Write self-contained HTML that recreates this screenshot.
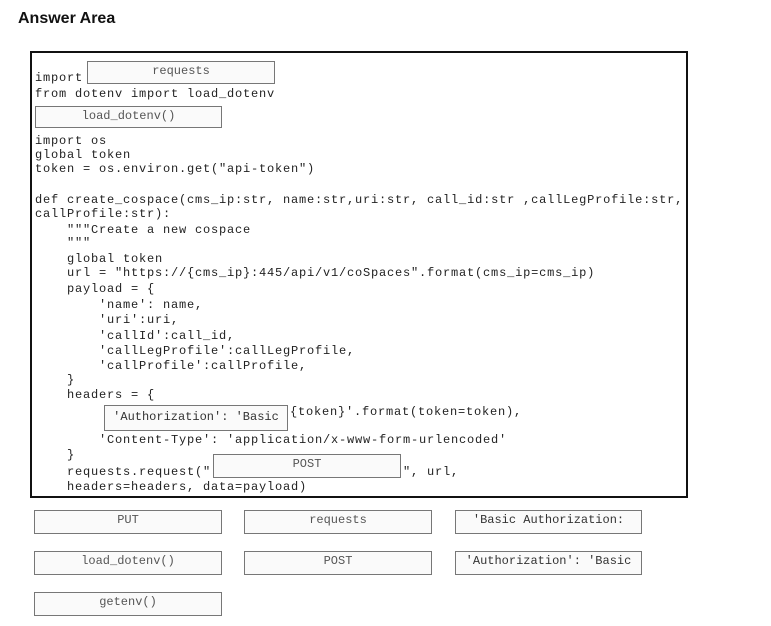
<!DOCTYPE html>
<html><head><meta charset="utf-8"><style>
body{margin:0;width:771px;height:626px;background:#fff;position:relative;overflow:hidden;font-family:"Liberation Mono",monospace;}
.t{position:absolute;font-size:12px;letter-spacing:0.8px;color:#222;white-space:pre;line-height:14px;}
.b{position:absolute;border:1.5px solid #777;background:#fafafa;box-sizing:border-box;font-size:12px;color:#555;text-align:center;line-height:18px;white-space:pre;}
.o{position:absolute;left:30px;top:51px;width:658px;height:447px;border:2.5px solid #111;box-sizing:border-box;}
h1{position:absolute;left:18px;top:10px;margin:0;font:bold 16px "Liberation Sans",sans-serif;color:#111;}
</style></head><body>
<h1>Answer Area</h1>
<div class="o"></div>
<div class="b" style="left:87px;top:61px;width:188px;height:23px;">requests</div>
<div class="t" style="left:35px;top:71px">import</div>
<div class="t" style="left:35px;top:87px">from dotenv import load_dotenv</div>
<div class="b" style="left:35px;top:106px;width:187px;height:22px;">load_dotenv()</div>
<div class="t" style="left:35px;top:134px">import os</div>
<div class="t" style="left:35px;top:148px">global token</div>
<div class="t" style="left:35px;top:162px">token = os.environ.get("api-token")</div>
<div class="t" style="left:35px;top:193px">def create_cospace(cms_ip:str, name:str,uri:str, call_id:str ,callLegProfile:str,</div>
<div class="t" style="left:35px;top:207px">callProfile:str):</div>
<div class="t" style="left:67px;top:223px">"""Create a new cospace</div>
<div class="t" style="left:67px;top:236px">"""</div>
<div class="t" style="left:67px;top:252px">global token</div>
<div class="t" style="left:67px;top:266px">url = "https://{cms_ip}:445/api/v1/coSpaces".format(cms_ip=cms_ip)</div>
<div class="t" style="left:67px;top:282px">payload = {</div>
<div class="t" style="left:99px;top:298px">'name': name,</div>
<div class="t" style="left:99px;top:313px">'uri':uri,</div>
<div class="t" style="left:99px;top:329px">'callId':call_id,</div>
<div class="t" style="left:99px;top:344px">'callLegProfile':callLegProfile,</div>
<div class="t" style="left:99px;top:359px">'callProfile':callProfile,</div>
<div class="t" style="left:67px;top:373px">}</div>
<div class="t" style="left:67px;top:388px">headers = {</div>
<div class="b" style="left:104px;top:405px;width:184px;height:26px;line-height:22px;color:#333;">'Authorization': 'Basic</div>
<div class="t" style="left:290px;top:405px">{token}'.format(token=token),</div>
<div class="t" style="left:99px;top:433px">'Content-Type': 'application/x-www-form-urlencoded'</div>
<div class="t" style="left:67px;top:448px">}</div>
<div class="b" style="left:213px;top:454px;width:188px;height:24px;">POST</div>
<div class="t" style="left:67px;top:465px">requests.request("</div>
<div class="t" style="left:403px;top:465px">", url,</div>
<div class="t" style="left:67px;top:480px">headers=headers, data=payload)</div>
<div class="b" style="left:34px;top:510px;width:188px;height:24px;">PUT</div>
<div class="b" style="left:244px;top:510px;width:188px;height:24px;">requests</div>
<div class="b" style="left:455px;top:510px;width:187px;height:24px;color:#333;">'Basic Authorization:</div>
<div class="b" style="left:34px;top:551px;width:188px;height:24px;">load_dotenv()</div>
<div class="b" style="left:244px;top:551px;width:188px;height:24px;">POST</div>
<div class="b" style="left:455px;top:551px;width:187px;height:24px;color:#333;">'Authorization': 'Basic</div>
<div class="b" style="left:34px;top:592px;width:188px;height:24px;">getenv()</div>
</body></html>
